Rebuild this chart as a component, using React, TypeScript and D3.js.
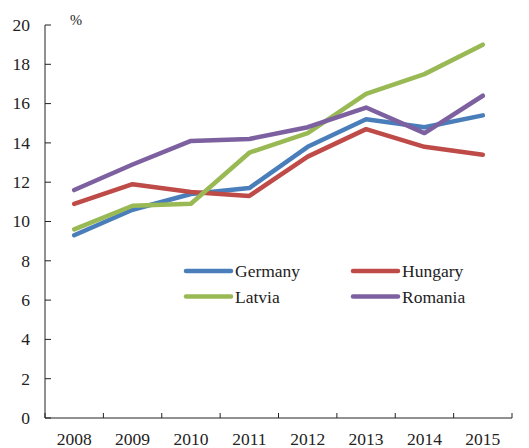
import React from "react";
import * as d3 from "d3";

const years = ["2008", "2009", "2010", "2011", "2012", "2013", "2014", "2015"];
const germany = [9.3, 10.6, 11.4, 11.7, 13.8, 15.2, 14.8, 15.4];
const hungary = [10.9, 11.9, 11.5, 11.3, 13.3, 14.7, 13.8, 13.4];
const latvia = [9.6, 10.8, 10.9, 13.5, 14.5, 16.5, 17.5, 19.0];
const romania = [11.6, 12.9, 14.1, 14.2, 14.8, 15.8, 14.5, 16.4];
const yTicks = [0, 2, 4, 6, 8, 10, 12, 14, 16, 18, 20];

const series = [
  { name: "Germany", values: germany, color: "#4a7ebb" },
  { name: "Hungary", values: hungary, color: "#be4b48" },
  { name: "Latvia", values: latvia, color: "#98b954" },
  { name: "Romania", values: romania, color: "#7d60a0" },
];

export default function App() {
  const W = 529, H = 448;
  const left = 45, right = 512, top = 25, bottom = 418;
  const x = d3.scaleBand<string>().domain(years).range([left, right]);
  const y = d3.scaleLinear().domain([0, 20]).range([bottom, top]);
  const line = d3
    .line<number>()
    .x((_, i) => (x(years[i]) as number) + x.bandwidth() / 2)
    .y((d) => y(d));
  const textStyle: React.CSSProperties = {
    fontFamily: "'Liberation Serif', 'Times New Roman', serif",
  };
  const fs = 17.5;
  const textColor = "#222";
  const boundaries = [...years.map((yr) => x(yr) as number), right];
  const legend = [
    { s: series[0], lx: 186, ly: 271 },
    { s: series[1], lx: 353, ly: 271 },
    { s: series[2], lx: 186, ly: 296.5 },
    { s: series[3], lx: 353, ly: 296.5 },
  ];
  return (
    <svg
      width={W}
      height={H}
      style={{ position: "absolute", left: 0, top: 0, background: "#fff" }}
    >
      <line x1={left} x2={left} y1={top} y2={bottom} stroke="#222" strokeWidth={1} />
      {yTicks.map((t) => (
        <g key={t}>
          <line x1={left} x2={left + 6} y1={y(t)} y2={y(t)} stroke="#222" />
          <text x={30} y={y(t) + 5.8} textAnchor="end" fontSize={fs} fill={textColor} style={textStyle}>
            {t}
          </text>
        </g>
      ))}
      <line x1={left} x2={right} y1={bottom} y2={bottom} stroke="#222" />
      {boundaries.map((b, i) => (
        <line key={i} x1={b} x2={b} y1={bottom} y2={bottom - 5} stroke="#222" />
      ))}
      {years.map((yr) => (
        <text key={yr} x={(x(yr) as number) + x.bandwidth() / 2} y={445} textAnchor="middle" fontSize={fs} fill={textColor} style={textStyle}>
          {yr}
        </text>
      ))}
      <text x={76} y={25} textAnchor="middle" fontSize={14.5} fill={textColor} style={textStyle}>
        %
      </text>
      {series.map((s) => (
        <path key={s.name} d={line(s.values) || ""} fill="none" stroke={s.color} strokeWidth={4.5} strokeLinecap="round" strokeLinejoin="round" />
      ))}
      {legend.map(({ s, lx, ly }) => (
        <g key={s.name}>
          <line x1={lx} x2={lx + 45} y1={ly} y2={ly} stroke={s.color} strokeWidth={4.5} strokeLinecap="round" />
          <text x={lx + 49} y={ly + 6} fontSize={fs} fill={textColor} style={textStyle}>
            {s.name}
          </text>
        </g>
      ))}
    </svg>
  );
}
